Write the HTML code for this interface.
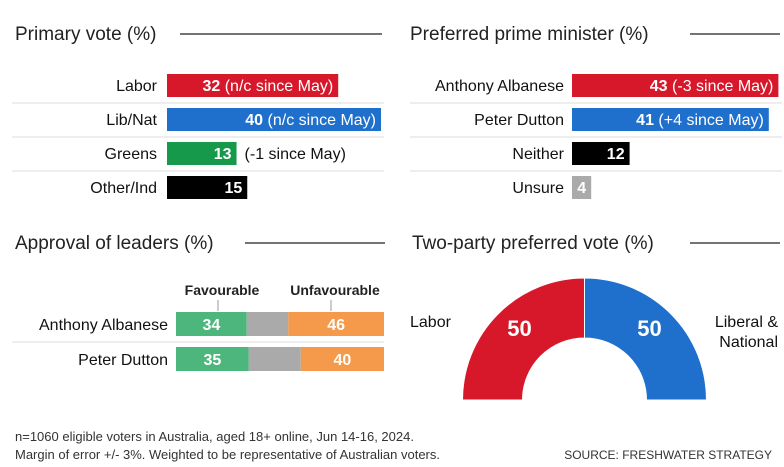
<!DOCTYPE html>
<html><head><meta charset="utf-8">
<style>
body{margin:0;width:784px;height:462px;background:#fff;font-family:"Liberation Sans",sans-serif;overflow:hidden}
svg text{font-family:"Liberation Sans",sans-serif}
</style></head><body>
<svg id="c" width="784" height="462" xmlns="http://www.w3.org/2000/svg"></svg>
<script>
const pvCats=["Labor","Lib/Nat","Greens","Other/Ind"];
const pvVals=[32,40,13,15];
const pvNotes=["(n/c since May)","(n/c since May)","(-1 since May)",""];
const pvColors=["#d7182a","#1f6fcc","#16994a","#000000"];
const ppmCats=["Anthony Albanese","Peter Dutton","Neither","Unsure"];
const ppmVals=[43,41,12,4];
const ppmNotes=["(-3 since May)","(+4 since May)","",""];
const ppmColors=["#d7182a","#1f6fcc","#000000","#aaaaaa"];
const apCats=["Anthony Albanese","Peter Dutton"];
const apFav=[34,35];
const apUnfav=[46,40];
const tppCats=["Labor","Liberal & National"];
const tppVals=[50,50];

const svg=document.getElementById('c');
const NS="http://www.w3.org/2000/svg";
function mk(tag,attrs,txt){const e=document.createElementNS(NS,tag);for(const k in attrs)e.setAttribute(k,attrs[k]);if(txt!==undefined)e.textContent=txt;svg.appendChild(e);return e;}

function title(x,y,t,lx1,lx2,name){
  const e=mk('text',{x:x,y:y,'font-size':19,fill:'#222'},t);
  
  
  const l=mk('line',{x1:lx1,x2:lx2,y1:y-6,y2:y-6,stroke:'#222','stroke-width':1.3});
  
  
}
title(15,40,"Primary vote (%)",180,382,"primary-vote-title");
title(410,40,"Preferred prime minister (%)",690,780,"ppm-title");
title(15,249,"Approval of leaders  (%)",245,385,"approval-title");
title(412,249,"Two-party preferred vote (%)",690,780,"tpp-title");

// horizontal bar chart helper
function hbars(cats,vals,notes,colors,x0,labelX,pxPer,y0,step,prefix){
  cats.forEach((c,i)=>{
    const y=y0+i*step, w=vals[i]*pxPer;
    const lab=mk('text',{x:labelX,y:y+17,'font-size':16,fill:'#111','text-anchor':'end'},c);
    
    
    const r=mk('rect',{x:x0,y:y,width:w,height:23,fill:colors[i]});
    
    
    const full=notes[i]&&w>120;
    const txt=full?vals[i]+" "+notes[i]:String(vals[i]);
    const t=mk('text',{x:x0+w-5,y:y+17,'font-size':16,fill:'#fff','text-anchor':'end','font-weight':full?'normal':'bold'},'');
    if(full){
      const b=document.createElementNS(NS,'tspan');b.setAttribute('font-weight','bold');b.textContent=vals[i]+" ";t.appendChild(b);
      const n=document.createElementNS(NS,'tspan');n.textContent=notes[i];t.appendChild(n);
    } else t.textContent=txt;
    
    
    if(notes[i]&&!full){
      const n=mk('text',{x:x0+w+8,y:y+17,'font-size':16,fill:'#111'},notes[i]);
      
      
    }
    if(i<cats.length-1){
      const s=mk('line',{x1:prefix==='pv'?12:410,x2:prefix==='pv'?384:782,y1:y+step-5,y2:y+step-5,stroke:'#ddd','stroke-width':1});
      
      
    }
  });
}
hbars(pvCats,pvVals,pvNotes,pvColors,167,157,5.35,74,34,'pv');
hbars(ppmCats,ppmVals,ppmNotes,ppmColors,572,564,4.8,74,34,'ppm');
// override bold on "Unsure"/"Neither" value texts ok

// approval
const ax0=176,aw=208;
[["Favourable",222],["Unfavourable",335]].forEach((h,i)=>{
  const t=mk('text',{x:h[1],y:295,'font-size':14,'font-weight':'bold',fill:'#222','text-anchor':'middle'},h[0]);
  
  
  const l=mk('line',{x1:h[1]-4,x2:h[1]-4,y1:300,y2:311,stroke:'#999','stroke-width':1});
  
  
});
apCats.forEach((c,i)=>{
  const y=312+i*35;
  const lab=mk('text',{x:168,y:y+18,'font-size':16,fill:'#111','text-anchor':'end'},c);
  
  
  const fw=apFav[i]/100*aw, uw=apUnfav[i]/100*aw;
  const f=mk('rect',{x:ax0,y:y,width:fw,height:24,fill:'#4db67c'});
  
  
  const g=mk('rect',{x:ax0+fw,y:y,width:aw-fw-uw,height:24,fill:'#aaaaaa'});
  
  
  const u=mk('rect',{x:ax0+aw-uw,y:y,width:uw,height:24,fill:'#f5994a'});
  
  
  const ft=mk('text',{x:ax0+fw/2,y:y+18,'font-size':16,'font-weight':'bold',fill:'#fff','text-anchor':'middle'},apFav[i]);
  
  
  const ut=mk('text',{x:ax0+aw-uw/2,y:y+18,'font-size':16,'font-weight':'bold',fill:'#fff','text-anchor':'middle'},apUnfav[i]);
  
  
});
const sep=mk('line',{x1:12,x2:384,y1:342,y2:342,stroke:'#ddd','stroke-width':1});



// donut (half)
const cx=584.5,cy=400,R=122,r=62;
const tot=tppVals.reduce((a,b)=>a+b,0);
const tppColors=["#d7182a","#1f6fcc"];
let ang=Math.PI;
tppVals.forEach((v,i)=>{
  const a0=ang,a1=ang-Math.PI*v/tot;ang=a1;
  const p=(rad,a)=>[cx+rad*Math.cos(a),cy-rad*Math.sin(a)];
  const [x1,y1]=p(R,a0),[x2,y2]=p(R,a1),[x3,y3]=p(r,a1),[x4,y4]=p(r,a0);
  const path=mk('path',{d:`M${x1},${y1} A${R},${R} 0 0 1 ${x2},${y2} L${x3},${y3} A${r},${r} 0 0 0 ${x4},${y4} Z`,fill:tppColors[i],stroke:'#fff','stroke-width':1});
  
  
  const am=(a0+a1)/2,[tx,ty]=p((R+r)/2,am);
  const t=mk('text',{x:tx,y:ty+1,'font-size':22,'font-weight':'bold',fill:'#fff','text-anchor':'middle'},tppVals[i]);
  
  
});
const l1=mk('text',{x:410,y:327,'font-size':16,fill:'#111'},tppCats[0]);


const l2=mk('text',{x:778,y:327,'font-size':16,fill:'#111','text-anchor':'end'},"Liberal &");


const l3=mk('text',{x:778,y:347,'font-size':16,fill:'#111','text-anchor':'end'},"National");



// footer
const f1=mk('text',{x:15,y:441,'font-size':13,fill:'#333'},"n=1060 eligible voters in Australia, aged 18+ online, Jun 14-16, 2024.");


const f2=mk('text',{x:15,y:459,'font-size':13,fill:'#333'},"Margin of error +/- 3%. Weighted to be representative of Australian voters.");


const f3=mk('text',{x:772,y:459,'font-size':12,fill:'#333','text-anchor':'end'},"SOURCE: FRESHWATER STRATEGY");


</script>
</body></html>
